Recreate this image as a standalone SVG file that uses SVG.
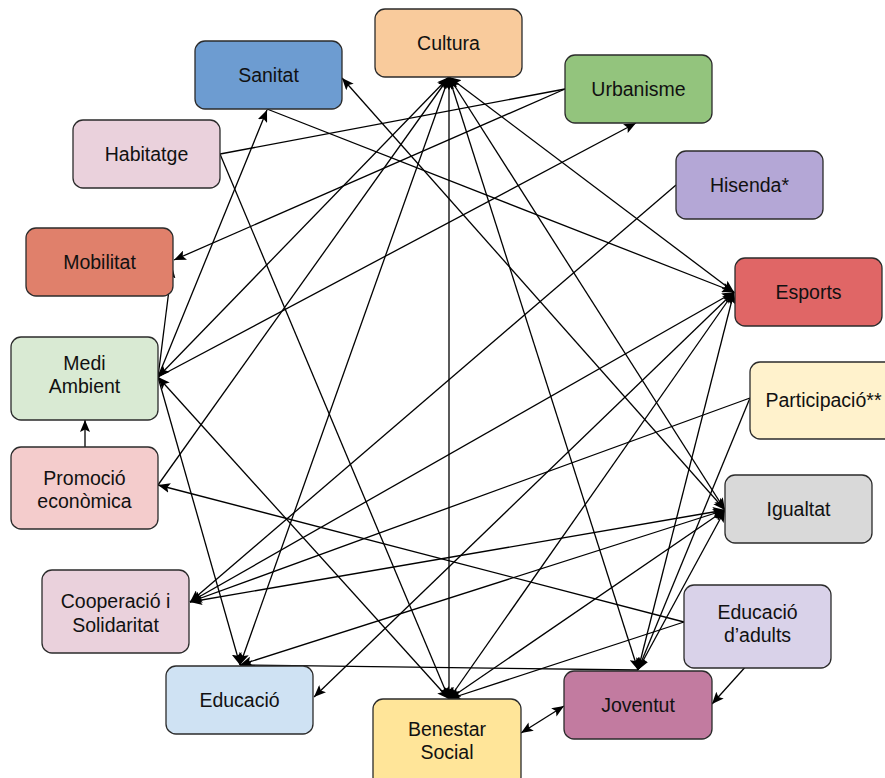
<svg xmlns="http://www.w3.org/2000/svg" width="885" height="778" viewBox="0 0 885 778">
<style>
.box{stroke:#2b2b2b;stroke-width:1.3}
.t{font-family:"Liberation Sans",Arial,Helvetica,sans-serif;font-size:19.5px;fill:#111;text-anchor:middle}
#edges line{stroke:#000;stroke-width:1.3;fill:none}
#edges .e{marker-end:url(#arr)}
#edges .b{marker-start:url(#arr);marker-end:url(#arr)}
</style>
<defs>
<marker id="arr" markerUnits="userSpaceOnUse" markerWidth="12" markerHeight="10" viewBox="0 0 12 10" refX="12" refY="5" orient="auto-start-reverse">
<path d="M0,0 L12,5 L0,10 L2.5,5 z" fill="#000"/>
</marker>
</defs>
<rect width="885" height="778" fill="#fff"/>
<g id="edges">
<line class="n" x1="220" y1="154" x2="565" y2="89"/>
<line class="e" x1="565" y1="89" x2="174" y2="260"/>
<line class="e" x1="158" y1="377" x2="172" y2="266"/>
<line class="e" x1="158" y1="377" x2="267" y2="110"/>
<line class="e" x1="158" y1="377" x2="636" y2="123"/>
<line class="b" x1="449" y1="77" x2="158" y2="377"/>
<line class="e" x1="158" y1="485" x2="449" y2="77"/>
<line class="b" x1="449" y1="77" x2="240" y2="665"/>
<line class="b" x1="449" y1="77" x2="449" y2="699"/>
<line class="b" x1="449" y1="77" x2="638" y2="670"/>
<line class="b" x1="449" y1="77" x2="725" y2="510"/>
<line class="b" x1="449" y1="77" x2="734" y2="292"/>
<line class="b" x1="449" y1="699" x2="158" y2="377"/>
<line class="e" x1="158" y1="377" x2="240" y2="665"/>
<line class="e" x1="85" y1="447" x2="85" y2="420"/>
<line class="e" x1="684" y1="622" x2="158" y2="485"/>
<line class="e" x1="267" y1="109" x2="734" y2="292"/>
<line class="b" x1="725" y1="510" x2="342" y2="78"/>
<line class="e" x1="220" y1="154" x2="449" y2="699"/>
<line class="e" x1="676" y1="185" x2="190" y2="602"/>
<line class="b" x1="734" y1="292" x2="190" y2="602"/>
<line class="e" x1="750" y1="398" x2="190" y2="602"/>
<line class="b" x1="725" y1="510" x2="190" y2="602"/>
<line class="b" x1="734" y1="292" x2="314" y2="697"/>
<line class="b" x1="638" y1="670" x2="734" y2="292"/>
<line class="e" x1="750" y1="398" x2="638" y2="670"/>
<line class="b" x1="725" y1="510" x2="638" y2="670"/>
<line class="b" x1="449" y1="699" x2="734" y2="292"/>
<line class="b" x1="449" y1="699" x2="725" y2="510"/>
<line class="b" x1="725" y1="510" x2="240" y2="665"/>
<line class="e" x1="638" y1="670" x2="240" y2="665"/>
<line class="e" x1="684" y1="622" x2="449" y2="699"/>
<line class="e" x1="757" y1="654" x2="712" y2="704"/>
<line class="b" x1="521" y1="733" x2="564" y2="706"/>
</g>
<g id="cultura"><rect class="box" x="375" y="9" width="147" height="68" rx="10" fill="#f9cb9c"/><text class="t" x="448.5" y="50">Cultura</text></g>
<g id="sanitat"><rect class="box" x="195" y="41" width="147" height="68" rx="10" fill="#6d9cd1"/><text class="t" x="268.5" y="82">Sanitat</text></g>
<g id="urbanisme"><rect class="box" x="565" y="55" width="147" height="68" rx="10" fill="#93c47d"/><text class="t" x="638.5" y="96">Urbanisme</text></g>
<g id="habitatge"><rect class="box" x="73" y="120" width="147" height="68" rx="10" fill="#ead1dc"/><text class="t" x="146.5" y="161">Habitatge</text></g>
<g id="hisenda"><rect class="box" x="676" y="151" width="147" height="68" rx="10" fill="#b4a7d6"/><text class="t" x="749.5" y="192">Hisenda*</text></g>
<g id="mobilitat"><rect class="box" x="26" y="228" width="147" height="68" rx="10" fill="#e0806b"/><text class="t" x="99.5" y="269">Mobilitat</text></g>
<g id="esports"><rect class="box" x="735" y="258" width="147" height="68" rx="10" fill="#e06666"/><text class="t" x="808.5" y="299">Esports</text></g>
<g id="medi-ambient"><rect class="box" x="11" y="337" width="147" height="83" rx="10" fill="#d9ead3"/><text class="t" x="84.5" y="370">Medi</text><text class="t" x="84.5" y="393">Ambient</text></g>
<g id="participacio"><rect class="box" x="750" y="362" width="147" height="77" rx="10" fill="#fff2cc"/><text class="t" x="823.5" y="407">Participació**</text></g>
<g id="promocio"><rect class="box" x="11" y="447" width="147" height="82" rx="10" fill="#f4cccc"/><text class="t" x="84.5" y="485">Promoció</text><text class="t" x="84.5" y="508">econòmica</text></g>
<g id="igualtat"><rect class="box" x="725" y="475" width="147" height="68" rx="10" fill="#d9d9d9"/><text class="t" x="798.5" y="516">Igualtat</text></g>
<g id="cooperacio"><rect class="box" x="42" y="570" width="147" height="83" rx="10" fill="#ead1dc"/><text class="t" x="115.5" y="608">Cooperació i</text><text class="t" x="115.5" y="632">Solidaritat</text></g>
<g id="educacio-adults"><rect class="box" x="684" y="585" width="147" height="83" rx="10" fill="#d9d2e9"/><text class="t" x="757.5" y="619">Educació</text><text class="t" x="757.5" y="642">d’adults</text></g>
<g id="educacio"><rect class="box" x="166" y="666" width="147" height="68" rx="10" fill="#cfe2f3"/><text class="t" x="239.5" y="707">Educació</text></g>
<g id="joventut"><rect class="box" x="564" y="671" width="148" height="68" rx="10" fill="#c27ba0"/><text class="t" x="638" y="712">Joventut</text></g>
<g id="benestar-social"><rect class="box" x="373" y="699" width="148" height="88" rx="10" fill="#ffe599"/><text class="t" x="447" y="736">Benestar</text><text class="t" x="447" y="759">Social</text></g>
</svg>
